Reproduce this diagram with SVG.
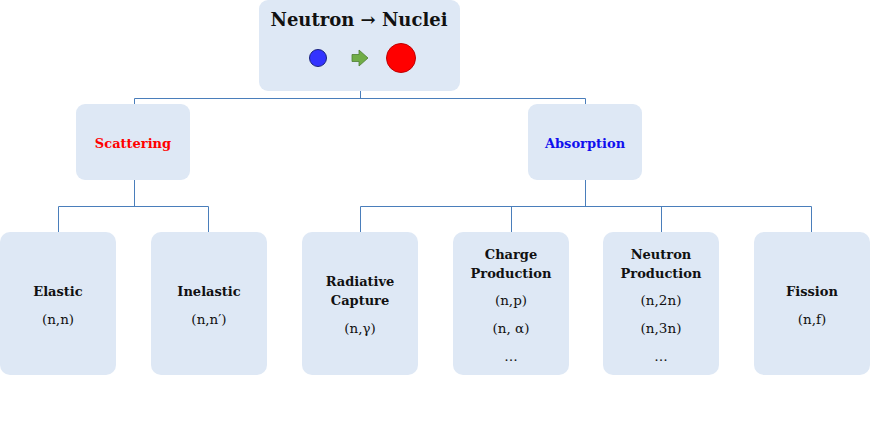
<svg xmlns="http://www.w3.org/2000/svg" width="870" height="432" viewBox="0 0 870 432">
<style>
.box{fill:#dee8f5;}
.t{font-family:"DejaVu Serif","Liberation Serif",serif;font-size:13px;font-weight:bold;fill:#111;text-anchor:middle;}
.s{font-family:"DejaVu Serif","Liberation Serif",serif;font-size:13.5px;fill:#111;text-anchor:middle;}
.ln{stroke:#4a7ebb;stroke-width:1;fill:none;}
</style>
<rect width="870" height="432" fill="#fff"/>
<g id="connectors">
<path class="ln" d="M360.5 91V98.5M134.5 98.5H585.5M134.5 98.5V104M585.5 98.5V104"/>
<path class="ln" d="M134.5 180V206.5M58.5 206.5H208.5M58.5 206.5V232M208.5 206.5V232"/>
<path class="ln" d="M585.5 180V206.5M360.5 206.5H811.5M360.5 206.5V232M511.5 206.5V232M661.5 206.5V232M811.5 206.5V232"/>
</g>
<g id="top">
<rect class="box" x="259" y="0" width="201" height="91" rx="9"/>
<text x="359" y="26" class="t" style="font-size:18px">Neutron → Nuclei</text>
<circle cx="318" cy="58" r="8.5" fill="#3333ff" stroke="#1a237e" stroke-width="1"/>
<path d="M352 54.5H359V50L368 58L359 66V61.5H352Z" fill="#70ad47" stroke="#4e7d32" stroke-width="0.8"/>
<circle cx="401" cy="58" r="14.5" fill="#ff0000" stroke="#c00000" stroke-width="1"/>
</g>
<g id="scattering">
<rect class="box" x="76" y="104" width="114" height="76" rx="9"/>
<text x="133" y="148" class="t" style="fill:#ff0000">Scattering</text>
</g>
<g id="absorption">
<rect class="box" x="528" y="104" width="114" height="76" rx="9"/>
<text x="585" y="148" class="t" style="fill:#1010ee">Absorption</text>
</g>
<g id="elastic">
<rect class="box" x="0" y="232" width="116" height="143" rx="10"/>
<text x="58" y="296" class="t">Elastic</text>
<text x="58" y="324" class="s">(n,n)</text>
</g>
<g id="inelastic">
<rect class="box" x="151" y="232" width="116" height="143" rx="10"/>
<text x="209" y="296" class="t">Inelastic</text>
<text x="209" y="324" class="s">(n,n′)</text>
</g>
<g id="radiative">
<rect class="box" x="302" y="232" width="116" height="143" rx="10"/>
<text x="360" y="286" class="t">Radiative</text>
<text x="360" y="305" class="t">Capture</text>
<text x="360" y="333" class="s">(n,γ)</text>
</g>
<g id="charge">
<rect class="box" x="453" y="232" width="116" height="143" rx="10"/>
<text x="511" y="259" class="t">Charge</text>
<text x="511" y="278" class="t">Production</text>
<text x="511" y="305" class="s">(n,p)</text>
<text x="511" y="333" class="s">(n, α)</text>
<text x="511" y="361" class="s">…</text>
</g>
<g id="neutronprod">
<rect class="box" x="603" y="232" width="116" height="143" rx="10"/>
<text x="661" y="259" class="t">Neutron</text>
<text x="661" y="278" class="t">Production</text>
<text x="661" y="305" class="s">(n,2n)</text>
<text x="661" y="333" class="s">(n,3n)</text>
<text x="661" y="361" class="s">…</text>
</g>
<g id="fission">
<rect class="box" x="754" y="232" width="116" height="143" rx="10"/>
<text x="812" y="296" class="t">Fission</text>
<text x="812" y="324" class="s">(n,f)</text>
</g>
</svg>
